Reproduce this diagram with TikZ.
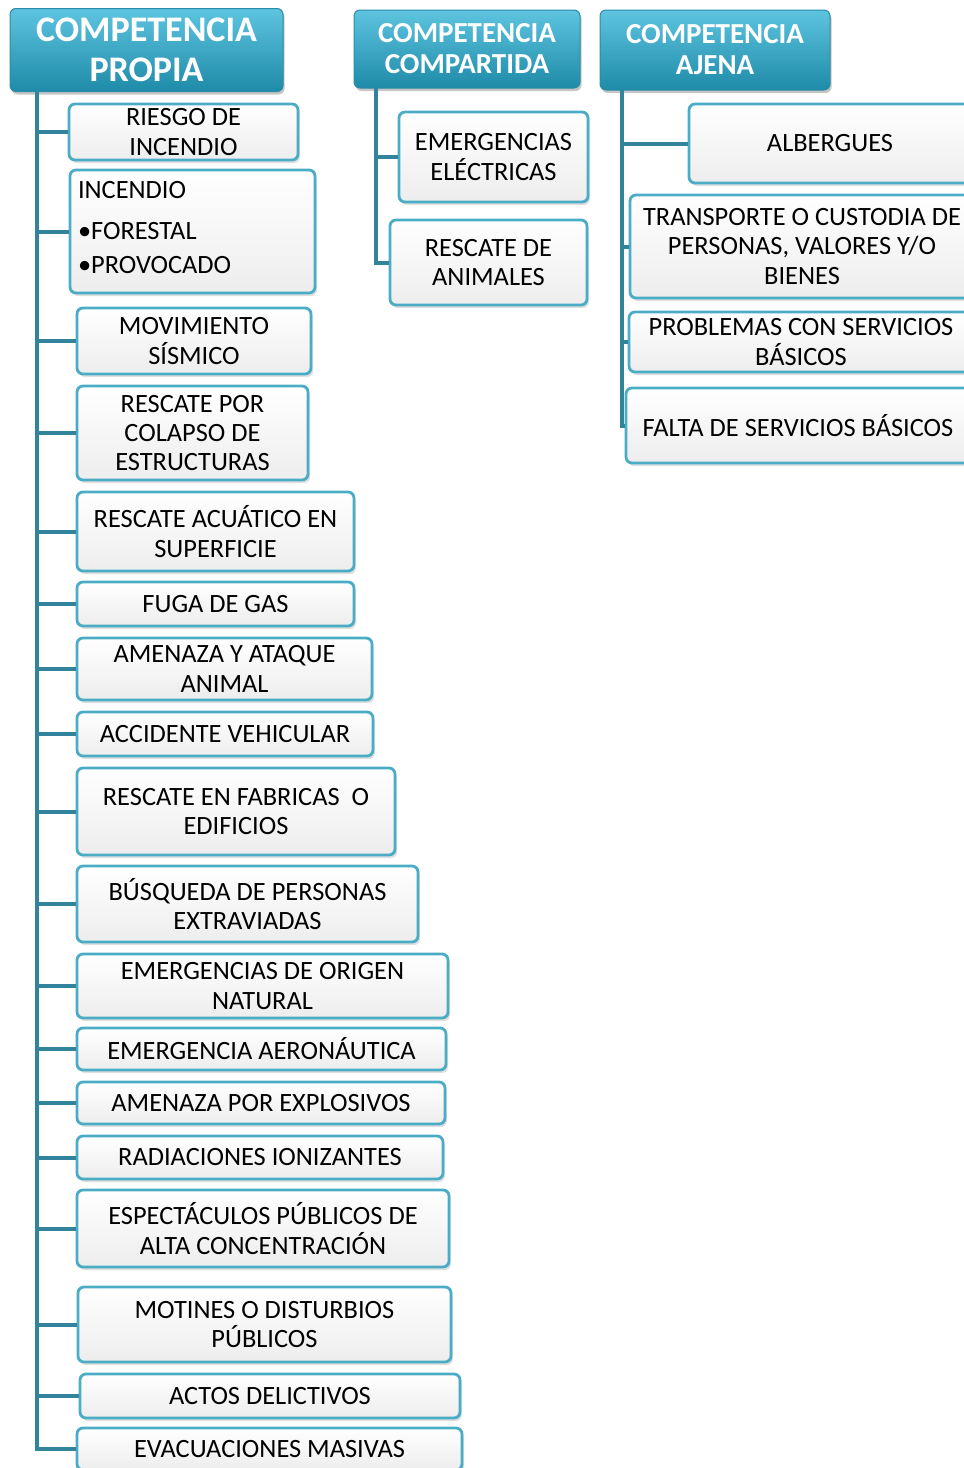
\documentclass[tikz,border=0pt]{standalone}
\usepackage{fontspec}
\setmainfont{Carlito}
\usetikzlibrary{shadows}

\definecolor{headtop}{HTML}{5EC4E0}
\definecolor{headbot}{HTML}{1E8BA8}
\definecolor{headline}{HTML}{2A8CA6}
\definecolor{trunk}{HTML}{31849B}
\definecolor{boxline}{HTML}{4BACC6}
\definecolor{boxfill}{HTML}{EDEDED}

\begin{document}
\begin{tikzpicture}[x=0.5pt, y=-0.5pt,
  boxsize/.style 2 args={minimum width=#1*0.5pt, minimum height=#2*0.5pt},
  head/.style={rectangle, rounded corners=3pt, draw=headline, line width=0.5pt,
    top color=headtop, bottom color=headbot, text=white, align=center, inner sep=0pt,
    drop shadow={opacity=0.45, shadow xshift=0.8pt, shadow yshift=-1.5pt}},
  item/.style={rectangle, rounded corners=3pt, draw=boxline, line width=1.4pt,
    top color=white, bottom color=boxfill, align=center, inner sep=0pt,
    font=\fontsize{13.2}{14.7}\selectfont,
    drop shadow={opacity=0.25, shadow xshift=1pt, shadow yshift=-1.5pt}},
  branch/.style={draw=trunk, line width=2pt}]

  \useasboundingbox (0,0) rectangle (964,1468);
  \clip (0,0) rectangle (964,1468);

  % HEADERS
  \node [head, boxsize={273}{83}, font=\fontsize{18}{20}\selectfont\bfseries] (propia) at (146.5,50) {COMPETENCIA\\PROPIA};
  \node [head, boxsize={226}{78}, font=\fontsize{14.5}{15.5}\selectfont\bfseries] (compartida) at (467,49) {COMPETENCIA\\COMPARTIDA};
  \node [head, boxsize={230}{80}, font=\fontsize{14.5}{15.5}\selectfont\bfseries] (ajena) at (715,50) {COMPETENCIA\\AJENA};

  \coordinate (t1) at (37,92);
  \coordinate (t2) at (376,88);
  \coordinate (t3) at (622,90);

  %LEFT
  \node [item, boxsize={229}{56}] (riesgo) at (183.5,132) {RIESGO DE\\INCENDIO};
  \node [item, boxsize={245}{123}, align=left, text width=114.5pt, text depth=41.9pt] (incendio) at (192.5,231.5) {INCENDIO\\[6pt]•FORESTAL\\[2.5pt]•PROVOCADO};
  \node [item, boxsize={234}{66}] (sismico) at (194,341) {MOVIMIENTO\\SÍSMICO};
  \node [item, boxsize={231}{94}] (colapso) at (192.5,433) {RESCATE POR\\COLAPSO DE\\ESTRUCTURAS};
  \node [item, boxsize={277}{79}] (acuatico) at (215.5,531.5) {RESCATE ACUÁTICO EN\\SUPERFICIE};
  \node [item, boxsize={277}{44}] (gas) at (215.5,604) {FUGA DE GAS};
  \node [item, boxsize={295}{62}] (animal) at (224.5,669) {AMENAZA Y ATAQUE\\ANIMAL};
  \node [item, boxsize={296}{44}] (vehicular) at (225,734) {ACCIDENTE VEHICULAR};
  \node [item, boxsize={318}{87}] (fabricas) at (236,811.5) {RESCATE EN FABRICAS~ O\\EDIFICIOS};
  \node [item, boxsize={341}{76}] (busqueda) at (247.5,904) {BÚSQUEDA DE PERSONAS\\EXTRAVIADAS};
  \node [item, boxsize={371}{64}] (natural) at (262.5,986) {EMERGENCIAS DE ORIGEN\\NATURAL};
  \node [item, boxsize={369}{42}] (aeronautica) at (261.5,1049) {EMERGENCIA AERONÁUTICA};
  \node [item, boxsize={368}{42}] (explosivos) at (261,1103) {AMENAZA POR EXPLOSIVOS};
  \node [item, boxsize={366}{43}] (radiaciones) at (260,1157.5) {RADIACIONES IONIZANTES};
  \node [item, boxsize={372}{77}] (espectaculos) at (263,1228.5) {ESPECTÁCULOS PÚBLICOS DE\\ALTA CONCENTRACIÓN};
  \node [item, boxsize={373}{75}] (motines) at (264.5,1324.5) {MOTINES O DISTURBIOS\\PÚBLICOS};
  \node [item, boxsize={380}{44}] (delictivos) at (270,1396) {ACTOS DELICTIVOS};
  \node [item, boxsize={385}{42}] (evacuaciones) at (269.5,1449) {EVACUACIONES MASIVAS};

  %MIDDLE
  \node [item, boxsize={189}{90}] (electricas) at (493.5,157) {EMERGENCIAS\\ELÉCTRICAS};
  \node [item, boxsize={197}{85}] (animales) at (488.5,262.5) {RESCATE DE\\ANIMALES};

  %RIGHT
  \node [item, boxsize={282}{79}] (albergues) at (830,143.5) {ALBERGUES};
  \node [item, boxsize={344}{103}] (transporte) at (802,246.5) {TRANSPORTE O CUSTODIA DE\\PERSONAS, VALORES Y/O\\BIENES};
  \node [item, boxsize={344}{60}] (servicios) at (801,342) {PROBLEMAS CON SERVICIOS\\BÁSICOS};
  \node [item, boxsize={344}{75}] (falta) at (798,425.5) {FALTA DE SERVICIOS BÁSICOS};

  % branches
  \foreach \n in {riesgo,incendio,sismico,colapso,acuatico,gas,animal,vehicular,fabricas,busqueda,natural,aeronautica,explosivos,radiaciones,espectaculos,motines,delictivos,evacuaciones}
    \draw [branch] (t1) |- (\n.west);
  \foreach \n in {electricas,animales}
    \draw [branch] (t2) |- (\n.west);
  \foreach \n in {albergues,transporte,servicios,falta}
    \draw [branch] (t3) |- (\n.west);

\end{tikzpicture}
\end{document}
